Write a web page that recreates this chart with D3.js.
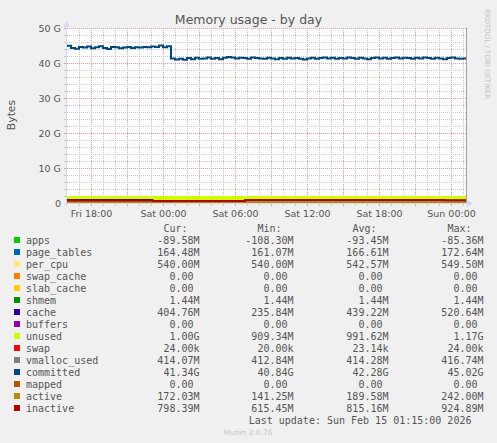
<!DOCTYPE html>
<html>
<head>
<meta charset="utf-8">
<script src="https://cdn.jsdelivr.net/npm/d3@7"></script>
<style>
body{margin:0;background:#f0f0f0;}
svg{display:block;}
text{font-family:"DejaVu Sans",sans-serif;fill:#555;}
.mono{font-family:"DejaVu Sans Mono",monospace;font-size:10px;white-space:pre;fill:#555;}
</style>
</head>
<body>
<script>
// values (MiB unless noted), step changes at these times
var stackTimes = ["2026-02-13 16:00","2026-02-13 23:10","2026-02-14 06:50","2026-02-14 23:30","2026-02-15 01:20"];
var apps        = [-100, -90, -95, -90, -90];
var page_tables = [168, 162, 167, 164, 164];
var per_cpu     = [548, 540, 543, 540, 540];
var swap_cache  = [0, 0, 0, 0, 0];
var slab_cache  = [0, 0, 0, 0, 0];
var shmem       = [1.44, 1.44, 1.44, 1.44, 1.44];
var cache       = [520, 240, 470, 405, 405];
var buffers     = [0, 0, 0, 0, 0];
var unused      = [930, 1170, 960, 1000, 1000];
var swap        = [0.02, 0.02, 0.02, 0.02, 0.02];
var vmalloc_used= [416, 413, 414, 414, 414];
var mapped      = [0, 0, 0, 0, 0];
var active      = [242, 141, 185, 172, 172];
var inactive    = [760, 620, 880, 798, 798];

// committed, GiB, one value every 20 minutes from Fri 16:00
var committed = [
 44.9,44.3,44.1,44.6,44.4,44.7,44.2,44.5,44.8,44.3,
 44.0,44.6,44.5,44.2,44.4,44.6,44.3,44.5,44.4,44.6,
 44.5,44.7,44.6,45.0,44.5,44.8,
 41.3,41.0,41.2,40.9,41.4,41.1,41.5,41.2,41.3,41.6,
 41.2,41.4,41.1,41.5,41.7,41.6,41.3,41.5,41.4,41.2,
 41.6,41.4,41.3,41.2,41.5,41.3,41.1,41.4,41.2,41.5,
 41.3,41.4,41.2,41.0,41.3,41.5,41.2,41.4,41.6,41.3,
 41.5,41.2,41.4,41.3,41.6,41.4,41.2,41.5,41.3,41.1,
 41.4,41.6,41.3,41.5,41.2,41.4,41.6,41.3,41.5,41.4,
 41.2,41.5,41.3,41.6,41.4,41.2,41.5,41.3,41.1,41.4,
 41.6,41.3,41.2,41.3,41.3
];

var names = ["apps","page_tables","per_cpu","swap_cache","slab_cache","shmem","cache","buffers","unused","swap","vmalloc_used","committed","mapped","active","inactive"];
var colors = ["#00CC00","#0066B3","#FFE680","#FF8000","#FFCC00","#008F00","#330099","#990099","#CCFF00","#FF0000","#808080","#00487D","#B35A00","#B38F00","#B30000"];
var stackKeys = ["apps","page_tables","per_cpu","swap_cache","slab_cache","shmem","cache","buffers","unused","swap"];

var curVals = ["-89.58M","164.48M","540.00M","0.00 ","0.00 ","1.44M","404.76M","0.00 ","1.00G","24.00k","414.07M","41.34G","0.00 ","172.03M","798.39M"];
var minVals = ["-108.30M","161.07M","540.00M","0.00 ","0.00 ","1.44M","235.84M","0.00 ","909.34M","20.00k","412.84M","40.84G","0.00 ","141.25M","615.45M"];
var avgVals = ["-93.45M","166.61M","542.57M","0.00 ","0.00 ","1.44M","439.22M","0.00 ","991.62M","23.14k","414.28M","42.28G","0.00 ","189.58M","815.16M"];
var maxVals = ["-85.36M","172.64M","549.50M","0.00 ","0.00 ","1.44M","520.64M","0.00 ","1.17G","24.00k","416.74M","45.02G","0.00 ","242.00M","924.89M"];

var yTickVals = [0, 10, 20, 30, 40, 50];
var yTickLabels = ["0","10 G","20 G","30 G","40 G","50 G"];
var xTickTimes = ["2026-02-13 18:00","2026-02-14 00:00","2026-02-14 06:00","2026-02-14 12:00","2026-02-14 18:00","2026-02-15 00:00"];
var xTickLabels = ["Fri 18:00","Sat 00:00","Sat 06:00","Sat 12:00","Sat 18:00","Sun 00:00"];

var parse = d3.timeParse("%Y-%m-%d %H:%M");
var series = {apps:apps, page_tables:page_tables, per_cpu:per_cpu, swap_cache:swap_cache, slab_cache:slab_cache,
    shmem:shmem, cache:cache, buffers:buffers, unused:unused, swap:swap, vmalloc_used:vmalloc_used,
    mapped:mapped, active:active, inactive:inactive};

var W = 497, H = 443;
var pL = 67, pR = 467, pT = 28, pB = 203;
var t0 = parse("2026-02-13 16:00"), t1 = parse("2026-02-15 01:20");

var x = d3.scaleTime().domain([t0, t1]).range([pL, pR]);
var y = d3.scaleLinear().domain([0, 50 * 1024]).range([pB, pT]);

var svg = d3.select("body").append("svg").attr("width", W).attr("height", H);
svg.append("rect").attr("width", W).attr("height", H).attr("fill", "#f0f0f0");
svg.append("rect").attr("x", pL).attr("y", pT).attr("width", pR - pL).attr("height", pB - pT).attr("fill", "#fff");

// grid
var grid = svg.append("g").attr("shape-rendering", "crispEdges");
var hours = d3.timeHour.range(d3.timeHour.offset(t0, 1), t1);
hours.forEach(function(h){
    var major = h.getHours() % 3 == 0;
    var xx = Math.round(x(h)) + 0.5;
    grid.append("line").attr("x1", xx).attr("x2", xx).attr("y1", pT).attr("y2", pB)
        .attr("stroke", major ? "#E39A9A" : "#C8C8C8").attr("stroke-dasharray", "1,1");
    grid.append("line").attr("x1", xx).attr("x2", xx).attr("y1", pB).attr("y2", pB + 3)
        .attr("stroke", major ? "#E39A9A" : "#C8C8C8");
});
d3.range(2, 51, 2).forEach(function(g){
    var major = g % 10 == 0;
    var yy = Math.round(y(g * 1024)) + 0.5;
    grid.append("line").attr("x1", pL).attr("x2", pR).attr("y1", yy).attr("y2", yy)
        .attr("stroke", major ? "#E39A9A" : "#C8C8C8").attr("stroke-dasharray", "1,1");
});
d3.range(0, 51, 2).forEach(function(g){
    var yy = Math.round(y(g * 1024)) + 0.5;
    grid.append("line").attr("x1", pL - 3).attr("x2", pL).attr("y1", yy).attr("y2", yy)
        .attr("stroke", g % 10 == 0 ? "#E39A9A" : "#C8C8C8");
});

// stacked areas
var rows = stackTimes.map(function(t, i){
    var r = {time: parse(t)};
    stackKeys.forEach(function(k){ r[k] = series[k][i]; });
    return r;
});
var stack = d3.stack().keys(stackKeys).offset(d3.stackOffsetNone);
var layers = stack(rows);
var area = d3.area().curve(d3.curveStepAfter)
    .x(function(d){ return x(d.data.time); })
    .y0(function(d){ return y(d[0]); })
    .y1(function(d){ return y(d[1]); });
svg.append("g").selectAll("path").data(layers).enter().append("path")
    .attr("d", area)
    .attr("fill", function(d){ return colors[names.indexOf(d.key)]; });

// lines
var line = d3.line().curve(d3.curveStepAfter)
    .x(function(d){ return x(d[0]); })
    .y(function(d){ return y(d[1]); });
function drawLine(key, pts){
    svg.append("path").attr("d", line(pts)).attr("fill", "none")
        .attr("stroke", colors[names.indexOf(key)]).attr("stroke-width", 2);
}
drawLine("vmalloc_used", stackTimes.map(function(t, i){ return [parse(t), vmalloc_used[i]]; }));
drawLine("committed", committed.map(function(v, i){ return [d3.timeMinute.offset(t0, i * 20), v * 1024]; }));
["mapped","active","inactive"].forEach(function(k){
    drawLine(k, stackTimes.map(function(t, i){ return [parse(t), series[k][i]]; }));
});

// right edge rule
svg.append("line").attr("x1", pR - 0.5).attr("x2", pR - 0.5).attr("y1", pT).attr("y2", pB)
    .attr("stroke", "#A0A0A0").attr("shape-rendering", "crispEdges");

// axes
var axisCol = "#CFD6F8";
svg.append("line").attr("x1", pL - 0.5).attr("x2", pL - 0.5).attr("y1", pB + 3).attr("y2", pT - 4)
    .attr("stroke", axisCol).attr("shape-rendering", "crispEdges");
svg.append("line").attr("x1", pL - 3).attr("x2", pR + 2).attr("y1", pB + 0.5).attr("y2", pB + 0.5)
    .attr("stroke", axisCol).attr("shape-rendering", "crispEdges");
svg.append("path").attr("d", "M63.5,27L66.5,21L69.5,27Z").attr("fill", axisCol);
svg.append("path").attr("d", "M467,200L473,203.5L467,207Z").attr("fill", axisCol);

var yAxis = d3.axisLeft(y).tickValues(yTickVals.map(function(v){ return v * 1024; }))
    .tickFormat(function(d, i){ return yTickLabels[i]; }).tickSize(0).tickPadding(0);
var ya = svg.append("g").attr("transform", "translate(" + (pL - 6) + ",0)").call(yAxis);
ya.select(".domain").remove();
ya.selectAll("text").attr("font-family", "DejaVu Sans").attr("font-size", "9.5px").attr("fill", "#555").attr("dy", "3.5");

var xAxis = d3.axisBottom(x).tickValues(xTickTimes.map(parse))
    .tickFormat(function(d, i){ return xTickLabels[i]; }).tickSize(0).tickPadding(0);
var xa = svg.append("g").attr("transform", "translate(0," + (pB + 13.5) + ")").call(xAxis);
xa.select(".domain").remove();
xa.selectAll("text").attr("font-family", "DejaVu Sans").attr("font-size", "9.5px").attr("fill", "#555").attr("dy", 0);

// titles
svg.append("text").attr("x", 248.5).attr("y", 23.5).attr("text-anchor", "middle")
    .attr("font-size", "12.5px").text("Memory usage - by day");
svg.append("text").attr("transform", "translate(14.5,115) rotate(-90)").attr("text-anchor", "middle")
    .attr("font-size", "10.8px").text("Bytes");
svg.append("text").attr("transform", "translate(485,54) rotate(90)").attr("text-anchor", "middle")
    .attr("font-size", "7px").style("fill", "#C4C4C4").text("RRDTOOL / TOBI OETIKER");

// legend
var colEnds = [199.5, 293.5, 388.5, 483.5];
var heads = ["Cur:  ","Min:  ","Avg:  ","Max:  "];
heads.forEach(function(h, j){
    svg.append("text").attr("class", "mono").attr("x", colEnds[j]).attr("y", 231.5).attr("text-anchor", "end").text(h);
});
names.forEach(function(n, i){
    var base = 243.5 + 12 * i;
    svg.append("rect").attr("x", 14).attr("y", base - 6.5).attr("width", 6).attr("height", 6).attr("fill", colors[i]);
    svg.append("text").attr("class", "mono").attr("x", 26).attr("y", base).text(n);
    [curVals, minVals, avgVals, maxVals].forEach(function(vals, j){
        svg.append("text").attr("class", "mono").attr("x", colEnds[j]).attr("y", base).attr("text-anchor", "end").text(vals[i]);
    });
});
svg.append("text").attr("class", "mono").attr("x", 483.5).attr("y", 423.5).attr("text-anchor", "end")
    .text("Last update: Sun Feb 15 01:15:00 2026  ");
svg.append("text").attr("x", 248).attr("y", 434.5).attr("text-anchor", "middle")
    .attr("font-size", "7.5px").style("fill", "#C8C8C8").text("Munin 2.0.76");
</script>
</body>
</html>
